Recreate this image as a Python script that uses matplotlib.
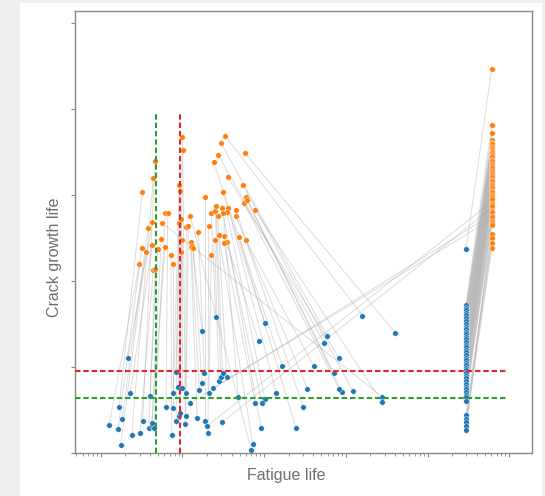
import numpy as np
import matplotlib
matplotlib.use("Agg")
import matplotlib.pyplot as plt
from matplotlib.patches import Rectangle

plt.rcParams['font.family'] = ['Liberation Sans', 'DejaVu Sans']

# ---------------- data (log10 of fatigue life, crack growth life) ----------------
# Group A: samples with orange point in the left cluster and blue point in the middle
a_blue_log_life = [4.204, 4.608, 4.447, 4.447, 4.086, 3.950, 3.916, 3.916, 3.852, 3.770,
                   3.733, 3.605, 3.529, 3.481, 3.388, 3.222, 3.149, 3.011, 3.011, 2.971,
                   2.962, 2.934, 2.892, 2.860, 2.843]
a_blue_crack = [1.597, 1.395, 0.655, 0.590, 0.721, 0.713, 0.748, 1.108, 0.927, 1.364,
                1.283, 1.015, 0.748, 0.531, 0.294, 1.015, 0.694, 1.508, 0.624, 0.578,
                0.287, 1.299, 0.578, 0.105, 0.038]
a_orange_log_life = [2.521, 2.763, 1.747, 2.889, 2.742, 2.775, 2.754, 2.554, 2.794, 2.472,
                     2.439, 2.775, 2.652, 2.652, 2.693, 2.383, 2.562, 2.493, 2.546, 2.550,
                     2.488, 2.513, 2.509, 2.444, 2.093]
a_orange_crack = [3.690, 3.492, 2.678, 2.826, 3.116, 2.973, 2.907, 3.209, 2.942, 3.605,
                  3.465, 2.480, 2.756, 2.822, 2.508, 3.380, 2.849, 3.031, 2.802, 2.457,
                  2.849, 2.527, 2.438, 2.535, 2.759]

# Group B: both points in the left cluster
b_blue_log_life = [1.102, 1.212, 1.224, 1.245, 1.261, 1.330, 1.359, 1.379, 1.481, 1.514,
                   1.588, 1.603, 1.624, 1.628, 1.652, 1.799, 1.869, 1.881, 1.889, 1.922,
                   1.922, 1.950, 1.962, 1.971, 1.999, 2.036, 2.040, 2.040, 2.179, 2.207,
                   2.240, 2.240, 2.268, 2.273, 2.313, 2.322, 2.408, 2.444, 2.472, 2.493,
                   2.542, 2.684]
b_blue_crack = [0.322, 0.276, 0.538, 0.097, 0.392, 1.101, 0.694, 0.209, 0.233, 0.372,
                0.294, 0.663, 0.317, 0.352, 0.287, 0.538, 0.209, 0.520, 0.694, 0.938,
                0.376, 0.767, 0.430, 0.462, 0.752, 0.337, 0.694, 0.430, 0.407, 0.733,
                1.422, 0.810, 0.934, 0.372, 0.236, 0.694, 1.585, 0.841, 0.880, 0.934,
                0.880, 0.651]
b_orange_log_life = [1.472, 1.502, 1.509, 1.551, 1.579, 1.632, 1.632, 1.644, 1.644, 1.665,
                     1.668, 1.698, 1.742, 1.787, 1.791, 1.820, 1.860, 1.881, 1.962, 1.962,
                     1.967, 1.987, 1.987, 1.999, 1.999, 2.004, 2.048, 2.072, 2.102, 2.105,
                     2.121, 2.133, 2.195, 2.273, 2.322, 2.354, 2.354, 2.395, 2.403, 2.411,
                     2.432, 2.501]
b_orange_crack = [2.194, 2.387, 3.031, 2.337, 2.620, 2.686, 2.422, 3.201, 2.131, 3.395,
                  2.136, 2.376, 2.488, 2.392, 2.794, 2.791, 2.306, 2.201, 3.116, 2.678,
                  3.047, 2.717, 2.337, 3.678, 2.480, 3.523, 2.628, 2.640, 2.392, 2.450,
                  2.407, 2.380, 2.573, 2.980, 2.640, 2.302, 2.794, 2.477, 2.810, 2.869,
                  2.752, 2.794]

# Group C: blue in the left cluster, orange in the right column
c_blue_log_life = [2.301, 2.485, 2.093, 2.371]
c_blue_crack = [0.314, 0.357, 0.581, 0.752]
c_orange_log_life = [5.786, 5.786, 5.786, 5.786]
c_orange_crack = [2.92, 2.85, 2.77, 2.72]

# Group D: right-hand columns
d_blue_log_life = 5.471
d_orange_log_life = 5.786
d_blue_crack = [2.37, 1.72, 1.69, 1.66, 1.63, 1.60, 1.57, 1.53, 1.50, 1.47, 1.44, 1.41,
                1.38, 1.35, 1.32, 1.29, 1.26, 1.23, 1.20, 1.17, 1.14, 1.11, 1.08, 1.05,
                1.02, 0.99, 0.96, 0.93, 0.90, 0.87, 0.84, 0.80, 0.77, 0.74, 0.71, 0.68,
                0.65, 0.61, 0.44, 0.40, 0.36, 0.31, 0.27]
d_orange_crack = [4.47, 3.81, 3.72, 3.64, 3.61, 3.59, 3.56, 3.54, 3.51, 3.49, 3.46, 3.44,
                  3.41, 3.39, 3.36, 3.34, 3.31, 3.28, 3.26, 3.23, 3.21, 3.18, 3.16, 3.13,
                  3.10, 3.08, 3.05, 3.03, 3.00, 2.98, 2.95, 2.90, 2.87, 2.82, 2.80, 2.74,
                  2.70, 2.67, 2.55, 2.50, 2.44, 2.38, 2.65]

# reference (threshold) lines
green_vline_log = 1.673
red_vline_log = 1.975
vline_top = 3.97
red_hline = 0.95
green_hline = 0.643
hline_right_log = 5.96

# ---------------- assemble ----------------
blue_x = 10 ** np.concatenate([a_blue_log_life, b_blue_log_life, c_blue_log_life,
                               np.full(len(d_blue_crack), d_blue_log_life)])
blue_y = np.concatenate([a_blue_crack, b_blue_crack, c_blue_crack, d_blue_crack])
orange_x = 10 ** np.concatenate([a_orange_log_life, b_orange_log_life, c_orange_log_life,
                                 np.full(len(d_orange_crack), d_orange_log_life)])
orange_y = np.concatenate([a_orange_crack, b_orange_crack, c_orange_crack, d_orange_crack])

# ---------------- figure ----------------
fig = plt.figure(figsize=(5.45, 4.96), dpi=100)
fig.patch.set_facecolor('white')
# light grey screenshot border (left, top, right)
for (x0, y0, w, h) in [(0, 0, 20, 496), (0, 493, 545, 3), (542, 0, 3, 496)]:
    fig.patches.append(Rectangle((x0 / 545, y0 / 496), w / 545, h / 496,
                                 transform=fig.transFigure, facecolor='#efefef',
                                 edgecolor='none', zorder=-10))
ax = fig.add_axes([75 / 545, 43 / 496, 457 / 545, 442 / 496])
ax.set_facecolor('white')

for bx, by, ox, oy in zip(blue_x, blue_y, orange_x, orange_y):
    ax.plot([bx, ox], [by, oy], color='#9a9a9a', alpha=0.35, lw=0.7, zorder=1)

ax.scatter(blue_x, blue_y, s=16, color='#1f77b4', edgecolor='white', linewidth=0.3, zorder=2)
ax.scatter(orange_x, orange_y, s=16, color='#ff7f0e', edgecolor='white', linewidth=0.3, zorder=2)

ax.set_xscale('log')
xmin, xmax = 10 ** 0.685, 10 ** 6.279
ax.set_xlim(xmin, xmax)
ax.set_ylim(0, 5.14)

dash = (0, (2.6, 1.4))
ax.plot([10 ** green_vline_log] * 2, [0, vline_top], color='#2ca02c', lw=1.5, ls=dash, zorder=3)
ax.plot([10 ** red_vline_log] * 2, [0, vline_top], color='#e0282a', lw=1.5, ls=dash, zorder=3)
ax.plot([xmin, 10 ** hline_right_log], [red_hline] * 2, color='#e0282a', lw=1.5, ls=dash, zorder=3)
ax.plot([xmin, 10 ** hline_right_log], [green_hline] * 2, color='#2ca02c', lw=1.5, ls=dash, zorder=3)

ax.set_yticks([0, 1, 2, 3, 4, 5])
ax.set_xticks([10.0 ** k for k in range(1, 7)])
ax.tick_params(which='both', labelbottom=False, labelleft=False, color='#888888',
               direction='out')
ax.tick_params(which='major', length=3, width=0.8)
ax.tick_params(which='minor', length=2, width=0.6)
for sp in ax.spines.values():
    sp.set_color('#8a8a8a')
    sp.set_linewidth(1.0)

ax.set_xlabel('Fatigue life', fontsize=11.5, color='#707070')
ax.set_ylabel('Crack growth life', fontsize=11.5, color='#707070')
ax.xaxis.set_label_coords(0.463, -0.05)
ax.yaxis.set_label_coords(-0.044, 0.442)
ax.xaxis.label.set_va('center')
ax.yaxis.label.set_va('center')

fig.savefig('out.png', dpi=100, facecolor=fig.get_facecolor())
